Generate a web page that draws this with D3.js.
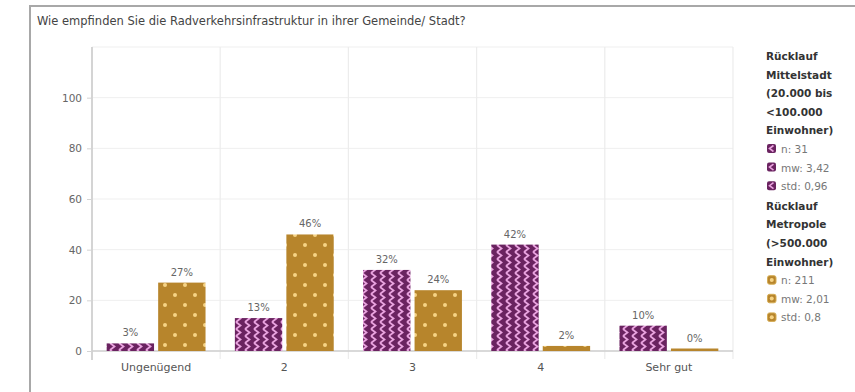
<!DOCTYPE html>
<html>
<head>
<meta charset="utf-8">
<script src="https://cdn.jsdelivr.net/npm/d3@7"></script>
<style>
  html, body { margin: 0; padding: 0; background: #fff; }
  svg { display: block; font-family: "DejaVu Sans", Verdana, sans-serif; }
</style>
</head>
<body>
<svg id="chart" width="855" height="392"></svg>
<script>
// Rating categories (x axis)
const categories = ["Ungenügend", "2", "3", "4", "Sehr gut"];
// Share of answers in percent, per city type
const mittelstadt = [3, 13, 32, 42, 10];
const metropole = [27, 46, 24, 2, 0];
const seriesNames = ["mittelstadt", "metropole"];
const yTicks = [0, 20, 40, 60, 80, 100];

const title = "Wie empfinden Sie die Radverkehrsinfrastruktur in ihrer Gemeinde/ Stadt?";
const legendGroups = [
  { head: ["Rücklauf", "Mittelstadt", "(20.000 bis", "<100.000", "Einwohner)"],
    items: ["n: 31", "mw: 3,42", "std: 0,96"], key: "mittelstadt" },
  { head: ["Rücklauf", "Metropole", "(>500.000", "Einwohner)"],
    items: ["n: 211", "mw: 2,01", "std: 0,8"], key: "metropole" }
];

const svg = d3.select("#chart");
const defs = svg.append("defs");

// Zigzag fill for the Mittelstadt series
const zig = defs.append("pattern").attr("id", "zigzag")
  .attr("patternUnits", "userSpaceOnUse").attr("width", 9).attr("height", 7);
zig.append("rect").attr("width", 9).attr("height", 7).attr("fill", "#6a2360");
zig.append("path").attr("d", "M2,0 L6.5,3.5 L2,7")
  .attr("fill", "none").attr("stroke", "#e9a3df").attr("stroke-width", 1.8);

// Dot fill for the Metropole series
const dots = defs.append("pattern").attr("id", "dots")
  .attr("patternUnits", "userSpaceOnUse").attr("width", 20).attr("height", 20);
dots.append("rect").attr("width", 20).attr("height", 20).attr("fill", "#b7852c");
dots.append("circle").attr("cx", 5).attr("cy", 5).attr("r", 2).attr("fill", "#f6d384");
dots.append("circle").attr("cx", 15).attr("cy", 15).attr("r", 2).attr("fill", "#f6d384");

const fills = { mittelstadt: "url(#zigzag)", metropole: "url(#dots)" };
const values = { mittelstadt, metropole };

// Outer frame
svg.append("line").attr("x1", 30).attr("x2", 855).attr("y1", 6).attr("y2", 6)
  .attr("stroke", "#a8a8a8").attr("stroke-width", 2);
svg.append("line").attr("x1", 30).attr("x2", 30).attr("y1", 5).attr("y2", 392)
  .attr("stroke", "#a8a8a8").attr("stroke-width", 2);

svg.append("text").attr("x", 37).attr("y", 25)
  .attr("font-size", 11.5).attr("fill", "#444").text(title);

// Plot geometry
const plotLeft = 92, plotRight = 733, plotTop = 47, plotBottom = 351;
const x = d3.scaleBand().domain(categories).range([plotLeft, plotRight]).paddingInner(0).paddingOuter(0);
const xs = d3.scaleBand().domain(seriesNames).range([0, x.bandwidth()]).paddingInner(0.08).paddingOuter(0.285);
const y = d3.scaleLinear().domain([0, 120]).range([plotBottom, plotTop]);

// Horizontal grid
svg.append("g").selectAll("line").data(yTicks.concat([120])).join("line")
  .attr("x1", plotLeft).attr("x2", plotRight)
  .attr("y1", d => y(d)).attr("y2", d => y(d))
  .attr("stroke", "#efefef").attr("stroke-width", 1);

// Vertical separators between categories
const seps = categories.map(c => x(c) + x.bandwidth());
svg.append("g").selectAll("line").data(seps).join("line")
  .attr("x1", d => d).attr("x2", d => d)
  .attr("y1", plotTop).attr("y2", plotBottom + 8)
  .attr("stroke", "#ececec").attr("stroke-width", 1.2);

// Y axis
const yAxis = svg.append("g").attr("transform", `translate(${plotLeft},0)`)
  .call(d3.axisLeft(y).tickValues(yTicks).tickSize(5).tickPadding(5));
yAxis.select(".domain").attr("d", `M0,${plotTop}V${plotBottom + 9}`)
  .attr("stroke", "#d4d4d4").attr("stroke-width", 2);
yAxis.selectAll(".tick line").attr("stroke", "#d4d4d4");
yAxis.selectAll(".tick text").attr("fill", "#666").attr("font-size", 10.5)
  .attr("font-family", "'DejaVu Sans', Verdana, sans-serif");

// X axis baseline and labels
svg.append("line").attr("x1", plotLeft).attr("x2", plotRight).attr("y1", y(0)).attr("y2", y(0))
  .attr("stroke", "#cfcfcf").attr("stroke-width", 1.5);
svg.append("g").selectAll("text").data(categories).join("text")
  .attr("x", d => x(d) + x.bandwidth() / 2).attr("y", 371)
  .attr("text-anchor", "middle").attr("font-size", 11).attr("fill", "#555")
  .text(d => d);

// Bars and value labels
const barData = [];
categories.forEach((c, i) => seriesNames.forEach(s => barData.push({ c, s, v: values[s][i] })));
const hMin = 2.5;
svg.append("g").selectAll("rect").data(barData).join("rect")
  .attr("x", d => x(d.c) + xs(d.s))
  .attr("width", xs.bandwidth())
  .attr("y", d => Math.min(y(d.v), y(0) - hMin))
  .attr("height", d => Math.max(y(0) - y(d.v), hMin))
  .attr("fill", d => fills[d.s]);
svg.append("g").selectAll("text").data(barData).join("text")
  .attr("x", d => x(d.c) + xs(d.s) + xs.bandwidth() / 2)
  .attr("y", d => Math.min(y(d.v), y(0) - hMin) - 7)
  .attr("text-anchor", "middle").attr("font-size", 10).attr("fill", "#666")
  .text(d => d.v + "%");

// Legend
const lg = svg.append("g").attr("transform", "translate(766,0)");
let ly = 60;
const lineH = 18.6;
function legendIcon(g, key, yy) {
  const icon = g.append("g").attr("transform", `translate(1,${yy - 9})`);
  if (key === "mittelstadt") {
    icon.append("rect").attr("width", 9).attr("height", 9).attr("rx", 2).attr("fill", "#6a2360");
    icon.append("path").attr("d", "M6.5,1.5 L2.5,4.5 L6.5,7.5")
      .attr("fill", "none").attr("stroke", "#e9a3df").attr("stroke-width", 1.6);
  } else {
    icon.append("rect").attr("x", 0.5).attr("y", 0.5).attr("width", 8.5).attr("height", 8.5).attr("rx", 2)
      .attr("fill", "#b7852c").attr("stroke", "#d6ad55").attr("stroke-width", 1);
    icon.append("circle").attr("cx", 4.75).attr("cy", 4.75).attr("r", 2).attr("fill", "#f6d384");
  }
}
legendGroups.forEach(g => {
  g.head.forEach(t => {
    lg.append("text").attr("x", 0).attr("y", ly).attr("font-size", 10.5)
      .attr("font-weight", "bold").attr("fill", "#333").text(t);
    ly += lineH;
  });
  g.items.forEach(t => {
    legendIcon(lg, g.key, ly);
    lg.append("text").attr("x", 15).attr("y", ly).attr("font-size", 10.5)
      .attr("fill", "#777").text(t);
    ly += lineH;
  });
  ly += 1;
});
</script>
</body>
</html>
